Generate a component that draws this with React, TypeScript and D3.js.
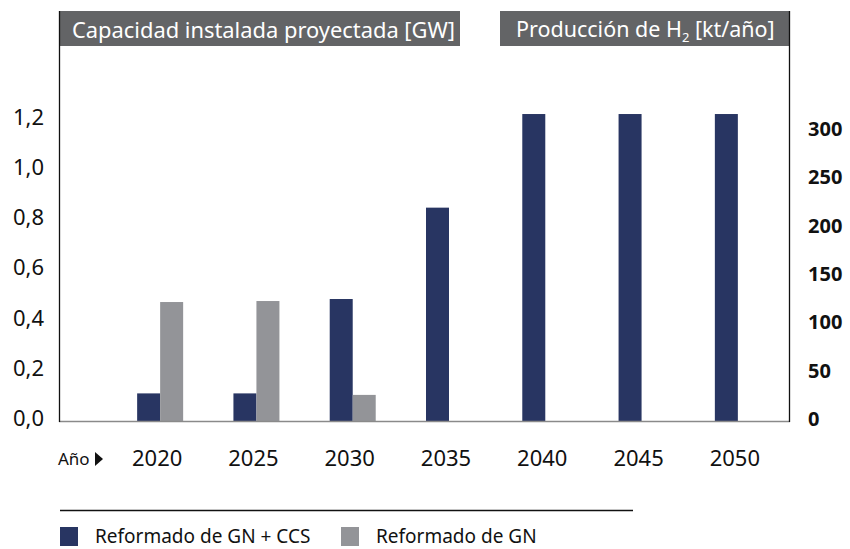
import React from "react";
import * as d3 from "d3";

const years = ["2020", "2025", "2030", "2035", "2040", "2045", "2050"];
const ccs = [0.11, 0.11, 0.486, 0.85, 1.223, 1.223, 1.223];
const gn = [0.474, 0.478, 0.104, 0, 0, 0, 0];
const leftTicks = [0, 0.2, 0.4, 0.6, 0.8, 1.0, 1.2];
const rightTicks = [0, 50, 100, 150, 200, 250, 300];
const seriesNames = ["Reformado de GN + CCS", "Reformado de GN"];
const colors = ["#283562", "#939498"];

const W = 850, H = 549;
const left = 59, right = 790, base = 421, top = 11;

export default function App() {
  const x = d3.scaleBand().domain(years).range([112, 786]).padding(0);
  const y = d3.scaleLinear().domain([0, 1.2]).range([base, base - 301.2]);
  const yR = d3.scaleLinear().domain([0, 300]).range([base, 131]);
  const bw = 23;
  const font = "'Noto Sans', 'Open Sans', sans-serif";
  return (
    <div style={{ position: "absolute", left: 0, top: 0 }}>
      <svg width={W} height={H} style={{ display: "block", fontFamily: font }}>
        <rect width={W} height={H} fill="#fff" />
        {/* title boxes */}
        <rect x={left} y={top} width={401} height={35} fill="#636466" />
        <text x={72} y={37.5} fill="#fff" fontSize={21.5} textLength={383} lengthAdjust="spacingAndGlyphs">Capacidad instalada proyectada [GW]</text>
        <rect x={500} y={top} width={289} height={35} fill="#636466" />
        <text x={516} y={37} fill="#fff" fontSize={21.5}>
          Producción de H<tspan fontSize={13} dy={5}>2</tspan><tspan dy={-5}> [kt/año]</tspan>
        </text>
        {/* bars */}
        {years.map((yr, i) => {
          const cx = (x(yr) as number) + x.bandwidth() / 2;
          return (
            <g key={yr}>
              <rect x={cx - bw} y={y(ccs[i])} width={bw} height={base - y(ccs[i])} fill={colors[0]} />
              {gn[i] > 0 && (
                <rect x={cx} y={y(gn[i])} width={bw} height={base - y(gn[i])} fill={colors[1]} />
              )}
              <text x={cx - 3} y={466} fontSize={22} textAnchor="middle" fill="#111">{yr}</text>
            </g>
          );
        })}
        {/* axes */}
        <line x1={left} x2={right} y1={base + 0.5} y2={base + 0.5} stroke="#8a8a8a" strokeWidth={1.5} />
        <line x1={left + 0.5} x2={left + 0.5} y1={top} y2={base + 1} stroke="#111" strokeWidth={1.3} />
        <line x1={right - 0.5} x2={right - 0.5} y1={top} y2={base + 1} stroke="#111" strokeWidth={1.3} />
        {leftTicks.map((t) => (
          <text key={t} x={44} y={y(t) + 5} fontSize={22} textAnchor="end" fill="#111">
            {d3.format(".1f")(t).replace(".", ",")}
          </text>
        ))}
        {rightTicks.map((t) => (
          <text key={t} x={808} y={yR(t) + 5} fontSize={20} fontWeight="bold" fill="#111">{t}</text>
        ))}
        <text x={58} y={465} fontSize={17} fill="#111">Año</text>
        <path d="M95,452 L103,459 L95,466 Z" fill="#111" />
        {/* legend */}
        <line x1={60} x2={633} y1={510.5} y2={510.5} stroke="#111" strokeWidth={1.3} />
        {seriesNames.map((s, i) => {
          const lx = i === 0 ? 60 : 341;
          return (
            <g key={s}>
              <rect x={lx} y={527} width={18} height={19} fill={colors[i]} />
              <text x={lx + 35} y={543} fontSize={19} fill="#111">{s}</text>
            </g>
          );
        })}
      </svg>
    </div>
  );
}
